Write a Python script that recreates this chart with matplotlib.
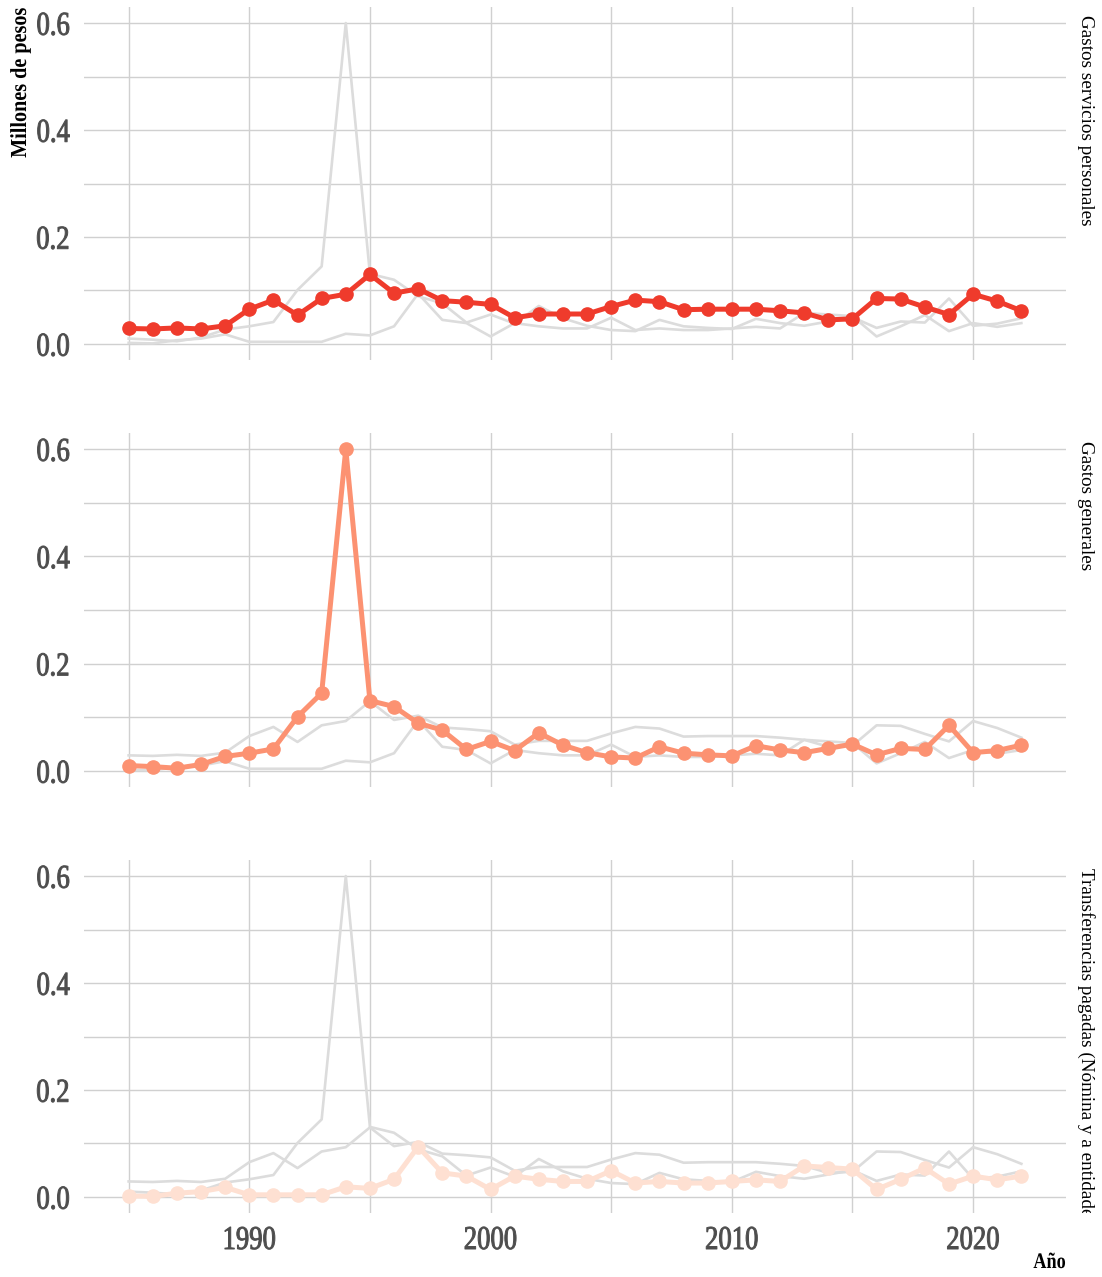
import matplotlib
matplotlib.use("Agg")
import matplotlib.pyplot as plt
from matplotlib.transforms import Bbox, TransformedBbox, Affine2D
from matplotlib.ticker import MultipleLocator, FormatStrFormatter
from matplotlib.patheffects import AbstractPathEffect

years = list(range(1985, 2023))

servicios_personales = [0.029, 0.028, 0.030, 0.028, 0.034, 0.065, 0.082, 0.054, 0.085, 0.093,
                        0.130, 0.095, 0.103, 0.081, 0.078, 0.074, 0.049, 0.056, 0.056, 0.056,
                        0.070, 0.082, 0.079, 0.064, 0.065, 0.065, 0.065, 0.062, 0.058, 0.045,
                        0.047, 0.085, 0.084, 0.069, 0.055, 0.093, 0.080, 0.062]
gastos_generales = [0.010, 0.008, 0.005, 0.012, 0.027, 0.033, 0.041, 0.101, 0.145, 0.600,
                    0.131, 0.120, 0.089, 0.076, 0.040, 0.055, 0.038, 0.071, 0.048, 0.034,
                    0.026, 0.024, 0.045, 0.033, 0.030, 0.028, 0.047, 0.039, 0.034, 0.042,
                    0.050, 0.030, 0.042, 0.040, 0.085, 0.034, 0.038, 0.048]
transferencias = [0.002, 0.001, 0.007, 0.010, 0.018, 0.004, 0.004, 0.004, 0.004, 0.019,
                  0.016, 0.033, 0.094, 0.045, 0.039, 0.014, 0.039, 0.033, 0.029, 0.029,
                  0.049, 0.026, 0.029, 0.026, 0.026, 0.029, 0.032, 0.029, 0.058, 0.055,
                  0.052, 0.014, 0.033, 0.054, 0.024, 0.039, 0.032, 0.039]

labels = ["Gastos servicios personales", "Gastos generales",
          "Transferencias pagadas (Nómina y a entidades)"]
series = [servicios_personales, gastos_generales, transferencias]
colors = ["#EF3B2C", "#FC9272", "#FEE0D2"]


class Condense(AbstractPathEffect):
    """Narrow the glyphs horizontally (along the text direction) about a pivot,
    optionally thickening them with a thin outline of the same colour."""

    def __init__(self, sx, anchor="left", stroke=0.0):
        super().__init__()
        self.sx = sx
        self.anchor = anchor
        self.stroke = stroke

    def draw_path(self, renderer, gc, tpath, affine, rgbFace=None):
        v = tpath.vertices
        if len(v):
            x0, x1 = v[:, 0].min(), v[:, 0].max()
        else:
            x0 = x1 = 0.0
        pivot = {"left": x0, "right": x1, "center": 0.5 * (x0 + x1)}[self.anchor]
        t = Affine2D().translate(-pivot, 0).scale(self.sx, 1).translate(pivot, 0) + affine
        gc0 = renderer.new_gc()
        gc0.copy_properties(gc)
        if self.stroke > 0 and rgbFace is not None:
            gc0.set_linewidth(self.stroke)
            gc0.set_foreground(rgbFace)
            gc0.set_joinstyle("round")
        renderer.draw_path(gc0, tpath, t, rgbFace)
        gc0.restore()


SERIF = "Liberation Serif"
W, H = 1102, 1277
fig = plt.figure(figsize=(W / 100, H / 100), dpi=100)

left = 84 / W
width = (1066 - 84) / W
panels = [(7, 360), (433, 787), (860, 1213)]

for i, (top, bot) in enumerate(panels):
    ax = fig.add_axes([left, 1 - bot / H, width, (bot - top) / H])
    for s in ax.spines.values():
        s.set_visible(False)
    ax.set_xlim(1983.15, 2023.85)
    ax.set_ylim(-0.03, 0.63)
    ax.xaxis.set_major_locator(MultipleLocator(10))
    ax.xaxis.set_minor_locator(MultipleLocator(5))
    ax.yaxis.set_major_locator(MultipleLocator(0.2))
    ax.yaxis.set_minor_locator(MultipleLocator(0.1))
    ax.yaxis.set_major_formatter(FormatStrFormatter("%.1f"))
    ax.xaxis.set_major_formatter(FormatStrFormatter("%d"))
    ax.grid(True, which="both", color="#d0d0d0", linewidth=1.0)
    ax.set_axisbelow(True)
    ax.tick_params(which="both", length=0)
    ax.tick_params(axis="y", pad=10, labelsize=24, labelcolor="#4d4d4d")
    ax.tick_params(axis="x", pad=9, labelsize=24, labelcolor="#4d4d4d")
    for j, s in enumerate(series):
        if j != i:
            ax.plot(years, s, color="#dcdcdc", linewidth=1.9, zorder=2)
    ax.plot(years, series[i], color=colors[i], linewidth=3.6, marker="o",
            markersize=9.5, zorder=3)
    if i < 2:
        ax.tick_params(axis="x", labelbottom=False)
    for lab in ax.get_yticklabels():
        lab.set_fontfamily(SERIF)
        lab.set_path_effects([Condense(0.8, "right", stroke=0.7)])
    for lab in ax.get_xticklabels():
        lab.set_fontfamily(SERIF)
        lab.set_path_effects([Condense(0.8, "center", stroke=0.7)])
    t = ax.text(1.011, 1.0 - 8 / (bot - top), labels[i], transform=ax.transAxes,
                rotation=-90, ha="left", va="top", fontsize=13.8, color="black",
                family=SERIF, clip_on=True)
    clipbox = TransformedBbox(Bbox([[1.0, 0.0], [1.1, 1.0]]), ax.transAxes)
    t.set_clip_box(clipbox)

fig.text(10 / W, 1 - 8 / H, "Millones de pesos", rotation=90, ha="left", va="top",
         fontsize=16.5, color="black", family=SERIF, fontweight="bold",
         path_effects=[Condense(0.88, "right")])
fig.text(1066 / W, 1 - 1273 / H, "Año", ha="right", va="bottom",
         fontsize=16, color="black", family=SERIF, fontweight="bold",
         path_effects=[Condense(0.82, "right")])

fig.savefig("out.png", dpi=100)
